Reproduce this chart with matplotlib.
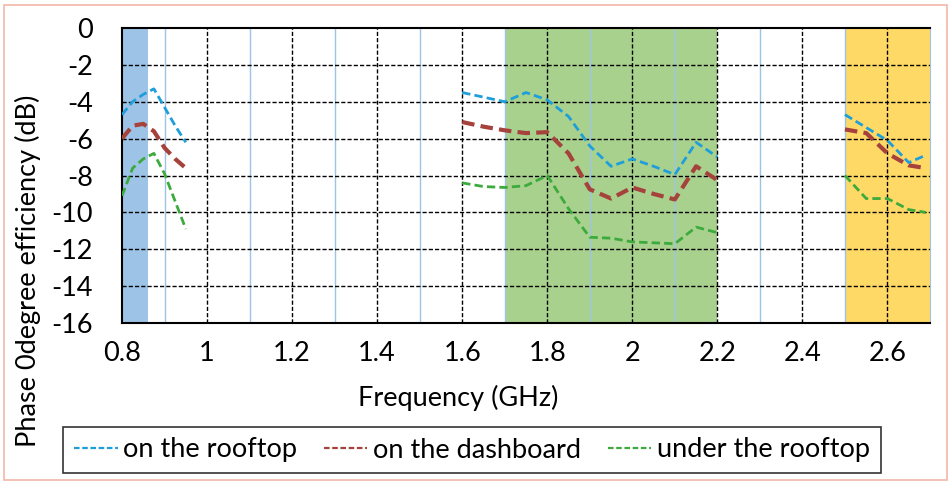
import matplotlib
matplotlib.use("Agg")
import matplotlib.pyplot as plt
from matplotlib.patches import Rectangle
from matplotlib.lines import Line2D
import numpy as np

plt.rcParams['font.family'] = ['Lato', 'DejaVu Sans']
plt.rcParams['axes.unicode_minus'] = False

# measured phase 0 degree efficiency (dB) in three frequency windows
freq_low = [0.8, 0.825, 0.85, 0.875, 0.9, 0.925, 0.95]
freq_mid = [1.6, 1.65, 1.7, 1.75, 1.8, 1.85, 1.9, 1.95, 2.0, 2.05, 2.1, 2.15, 2.2]
freq_high = [2.5, 2.55, 2.6, 2.65, 2.69]

rooftop_low = [-4.7, -4.0, -3.6, -3.3, -4.3, -5.3, -6.2]
rooftop_mid = [-3.5, -3.75, -4.0, -3.5, -3.9, -4.8, -6.4, -7.5, -7.1, -7.5, -7.95, -6.2, -7.0]
rooftop_high = [-4.7, -5.4, -6.1, -7.3, -6.9]

dash_low = [-6.0, -5.3, -5.2, -5.6, -6.5, -7.1, -7.6]
dash_mid = [-5.1, -5.35, -5.55, -5.7, -5.65, -6.8, -8.75, -9.25, -8.65, -9.0, -9.3, -7.5, -8.25]
dash_high = [-5.5, -5.7, -6.8, -7.45, -7.6]

under_low = [-9.1, -7.6, -7.1, -6.8, -7.9, -9.4, -10.9]
under_mid = [-8.4, -8.6, -8.65, -8.55, -8.0, -9.8, -11.35, -11.4, -11.6, -11.65, -11.7, -10.8, -11.1]
under_high = [-8.0, -9.25, -9.25, -9.85, -10.0]

# operating bands
bands = [(0.8, 0.86, '#9DC3E6'), (1.7, 2.2, '#A9D18E'), (2.5, 2.7, '#FFD966')]

series = [
    ('on the rooftop', '#1E9FDA', 2.0, [rooftop_low, rooftop_mid, rooftop_high]),
    ('on the dashboard', '#A5423C', 3.0, [dash_low, dash_mid, dash_high]),
    ('under the rooftop', '#3DAA3D', 2.0, [under_low, under_mid, under_high]),
]

FS = 19.5
W, H = 951, 482

fig = plt.figure(figsize=(W / 100, H / 100), dpi=100)
ax = fig.add_axes([122 / W, 1 - 323 / H, (930 - 122) / W, (323 - 28) / H])

for lo, hi, c in bands:
    ax.axvspan(lo, hi, color=c, zorder=0, lw=0)

# light minor verticals and dashed major grid
for xm in np.arange(0.9, 2.7, 0.2):
    ax.axvline(xm, color='#9DC3E6', lw=1.0, zorder=1)
for xm in np.arange(1.0, 2.61, 0.2):
    ax.axvline(xm, color='black', lw=1.0, ls=(0, (3, 1.5)), zorder=1)
for ym in np.arange(-14, -1, 2):
    ax.axhline(ym, color='black', lw=1.0, ls=(0, (3, 1.5)), zorder=1)

freqs = [freq_low, freq_mid, freq_high]
handles = []
for name, c, lw, parts in series:
    for f, v in zip(freqs, parts):
        ax.plot(f, v, color=c, lw=lw, ls=(0, (3, 1.5)), zorder=3)
    handles.append(Line2D([], [], color=c, lw=1.6, ls=(0, (2.5, 1.2)), label=name))

ax.set_xlim(0.8, 2.7)
ax.set_ylim(-16, 0)
ax.set_xticks(np.arange(0.8, 2.61, 0.2))
ax.set_xticklabels(['0.8', '1', '1.2', '1.4', '1.6', '1.8', '2', '2.2', '2.4', '2.6'])
ax.set_yticks(np.arange(-16, 1, 2))
ax.tick_params(length=0, labelsize=FS)
ax.tick_params(axis='x', pad=13)
ax.tick_params(axis='y', pad=21)
for s in ['left', 'bottom', 'top']:
    ax.spines[s].set_color('black')
    ax.spines[s].set_linewidth(1.5)
ax.spines['right'].set_color('#9DC3E6')

fig.text(458 / W, 1 - 398 / H, 'Frequency (GHz)', fontsize=FS, ha='center', va='center')
fig.text(28 / W, 1 - 271 / H, 'Phase 0degree efficiency (dB)', fontsize=FS,
         rotation=90, ha='center', va='center')

leg = fig.legend(handles=handles, loc='center', bbox_to_anchor=(472 / W, 1 - 450 / H), ncol=3,
                 fontsize=FS, frameon=True, fancybox=False, edgecolor='black',
                 handlelength=1.6, handletextpad=0.2, columnspacing=1.0,
                 borderpad=0.4, borderaxespad=0)
leg.get_frame().set_linewidth(1.2)

# thin outer border of the chart area
fig.patches.append(Rectangle((0.004, 0.004), 0.992, 0.985, transform=fig.transFigure,
                             fill=False, edgecolor='#F2B8A8', lw=1.2))

fig.savefig('out.png', dpi=100)
